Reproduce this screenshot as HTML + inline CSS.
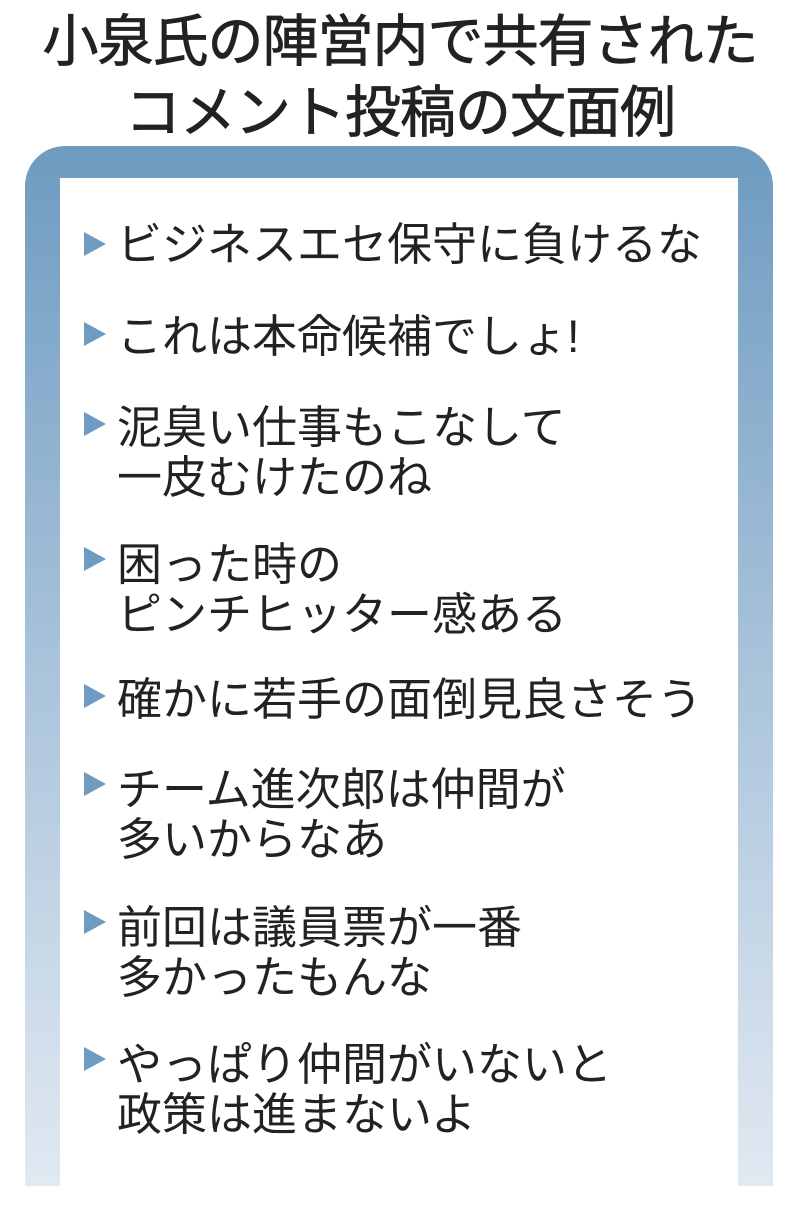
<!DOCTYPE html>
<html><head><meta charset="utf-8"><style>
body{margin:0;width:800px;height:1207px;background:#fff;position:relative;overflow:hidden;font-family:"Liberation Sans","Noto Sans CJK JP",sans-serif;}
.t{position:absolute;left:0;width:800px;text-align:center;font-weight:normal;font-size:56px;color:#222;line-height:70px;letter-spacing:-1px;-webkit-text-stroke:0.8px #222}
.frame{position:absolute;left:25px;top:146px;width:748px;height:1040px;border-radius:40px 40px 0 0;background:linear-gradient(#6e9bc1,#a9c3da 50%,#e1e9f2)}
.inner{position:absolute;left:60px;top:178px;width:678px;height:1008px;background:#fff}
.i{position:absolute;left:117px;font-size:45px;line-height:50px;color:#222;letter-spacing:0}
.tri{position:absolute;left:84px;width:0;height:0;border-top:12px solid transparent;border-bottom:12px solid transparent;border-left:22px solid #6e9bc1}
</style></head><body>
<div class="t" style="top:7px">小泉氏の陣営内で共有された</div>
<div class="t" style="top:78px">コメント投稿の文面例</div>
<div class="frame"></div><div class="inner"></div>
<div class="tri" style="top:232px"></div><div class="i" style="top:220px">ビジネスエセ保守に負けるな</div>
<div class="tri" style="top:322px"></div><div class="i" style="top:312px">これは本命候補でしょ!</div>
<div class="tri" style="top:412px"></div><div class="i" style="top:403px">泥臭い仕事もこなして<br>一皮むけたのね</div>
<div class="tri" style="top:547px"></div><div class="i" style="top:540px">困った時の<br>ピンチヒッター感ある</div>
<div class="tri" style="top:684px"></div><div class="i" style="top:675px">確かに若手の面倒見良さそう</div>
<div class="tri" style="top:772px"></div><div class="i" style="top:765px">チーム進次郎は仲間が<br>多いからなあ</div>
<div class="tri" style="top:910px"></div><div class="i" style="top:903px">前回は議員票が一番<br>多かったもんな</div>
<div class="tri" style="top:1047px"></div><div class="i" style="top:1040px">やっぱり仲間がいないと<br>政策は進まないよ</div>
</body></html>
